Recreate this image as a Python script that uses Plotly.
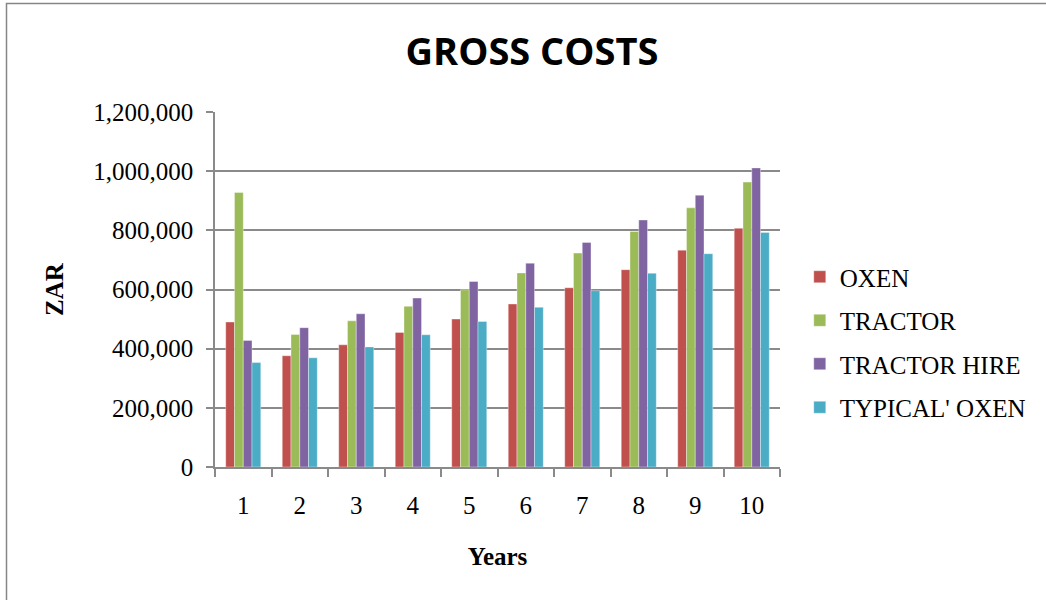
import plotly.graph_objects as go

YEARS = ["1", "2", "3", "4", "5", "6", "7", "8", "9", "10"]

OXEN = [490000, 376000, 413000, 455000, 500000, 551000, 606000, 667000, 733000, 807000]
TRACTOR = [928000, 448000, 494000, 543000, 599000, 656000, 723000, 796000, 876000, 963000]
TRACTOR_HIRE = [428000, 471000, 518000, 571000, 627000, 689000, 759000, 835000, 919000, 1011000]
TYPICAL_OXEN = [353000, 369000, 406000, 447000, 492000, 540000, 596000, 655000, 721000, 793000]

SERIES = [
    ("OXEN", OXEN, "#C0504D"),
    ("TRACTOR", TRACTOR, "#9BBB59"),
    ("TRACTOR HIRE", TRACTOR_HIRE, "#8064A2"),
    ("TYPICAL' OXEN", TYPICAL_OXEN, "#4BACC6"),
]

GRID = "#8a8a8a"
SERIF = "Liberation Serif, Times New Roman, serif"

fig = go.Figure()
for name, values, color in SERIES:
    fig.add_trace(
        go.Bar(
            x=YEARS,
            y=values,
            name=name,
            legendgroup=name,
            marker=dict(color=color, line=dict(color="rgba(255,255,255,0.6)", width=0.6)),
        )
    )

# plot area in pixels: x 215..780, y 112..467 (body margin removed below)
fig.update_layout(
    width=1046,
    height=600,
    margin=dict(l=215, r=266, t=112, b=133),
    paper_bgcolor="white",
    plot_bgcolor="white",
    barmode="group",
    bargap=0.38,
    bargroupgap=0,
    title=dict(
        text="<b>GROSS COSTS</b>",
        x=(532 - 215) / 565,
        xref="paper",
        xanchor="center",
        y=1 - 52 / 600,
        yanchor="middle",
        font=dict(family="Open Sans, sans-serif", size=38, color="black"),
    ),
    font=dict(family=SERIF, size=25, color="black"),
    legend=dict(
        x=1.035,
        xanchor="left",
        y=(467 - 342) / 355,
        yanchor="middle",
        font=dict(family=SERIF, size=25, color="black"),
        tracegroupgap=8,
        bgcolor="rgba(0,0,0,0)",
    ),
    shapes=[
        dict(
            type="rect",
            xref="paper",
            yref="paper",
            x0=(6.5 - 215) / 565,
            x1=(1060 - 215) / 565,
            y0=-0.5,
            y1=(467 - 3.5) / 355,
            line=dict(color="#868686", width=1.5),
            fillcolor="rgba(0,0,0,0)",
            layer="below",
        )
    ],
)

fig.update_yaxes(
    range=[0, 1200000],
    dtick=200000,
    tickformat=",",
    showgrid=True,
    gridcolor=GRID,
    gridwidth=1.5,
    showline=True,
    linecolor=GRID,
    linewidth=1.5,
    ticks="outside",
    ticklen=7,
    tickcolor=GRID,
    tickwidth=1.5,
    ticklabelstandoff=8,
    zeroline=False,
    tickfont=dict(family=SERIF, size=25),
    title=dict(text="<b>ZAR</b>", standoff=23, font=dict(family=SERIF, size=25)),
)
fig.update_xaxes(
    type="category",
    showgrid=False,
    showline=True,
    linecolor=GRID,
    linewidth=1.5,
    ticks="outside",
    tickson="boundaries",
    ticklen=8,
    tickcolor=GRID,
    tickwidth=1.5,
    ticklabelstandoff=15,
    tickfont=dict(family=SERIF, size=25),
    title=dict(text="<b>Years</b>", standoff=30, font=dict(family=SERIF, size=25)),
)

fig.write_html(
    "out.html",
    config={"displayModeBar": False},
    post_script="document.body.style.margin = '0';",
)
